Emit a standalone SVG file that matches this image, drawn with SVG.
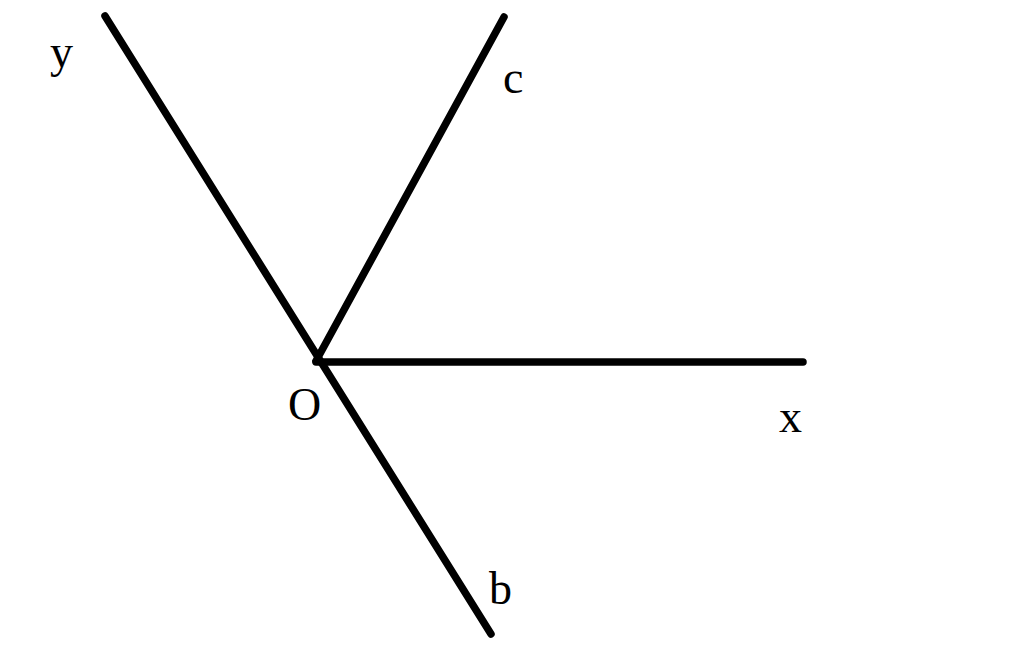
<svg xmlns="http://www.w3.org/2000/svg" width="1024" height="650" viewBox="0 0 1024 650">
<style>
.ln{stroke:#000;stroke-width:7.5;stroke-linecap:round;fill:none}
.lb{font-family:"Liberation Serif",serif;font-size:46px;fill:#000}
</style>
<rect width="1024" height="650" fill="#fff"/>
<g id="connectors">
<line class="ln" x1="105" y1="16" x2="491" y2="634"/>
<line class="ln" x1="316" y1="361" x2="504" y2="17"/>
<line class="ln" x1="316" y1="362" x2="803" y2="362"/>
</g>
<g id="label-y"><text class="lb" x="50" y="67">y</text></g>
<g id="label-c"><text class="lb" x="503" y="93">c</text></g>
<g id="label-O"><text class="lb" x="288" y="420">O</text></g>
<g id="label-x"><text class="lb" x="779" y="432">x</text></g>
<g id="label-b"><text class="lb" x="489" y="604">b</text></g>
</svg>
